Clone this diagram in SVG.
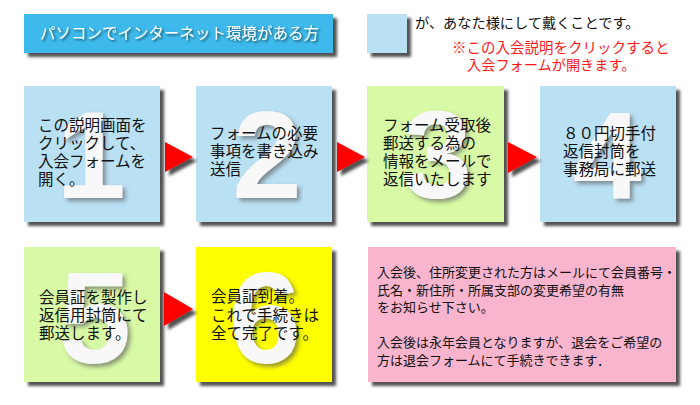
<svg xmlns="http://www.w3.org/2000/svg" width="700" height="405" viewBox="0 0 700 405">
<defs>
<filter id="sh" x="-10%" y="-10%" width="130%" height="130%">
<feDropShadow dx="4" dy="4" stdDeviation="1.5" flood-color="#333" flood-opacity="0.85"/>
</filter>
<filter id="dsh" x="-20%" y="-20%" width="150%" height="150%">
<feDropShadow dx="3" dy="3" stdDeviation="2" flood-color="#555" flood-opacity="0.6"/>
</filter>
<filter id="tsh" x="-5%" y="-20%" width="110%" height="150%">
<feDropShadow dx="1.5" dy="1.5" stdDeviation="1" flood-color="#000" flood-opacity="0.6"/>
</filter>
</defs>
<style>
.t{font-family:"Noto Sans CJK JP","Noto Sans",sans-serif;fill:#111}
.b{font-size:15.5px}
.s{font-size:13px}
.d{font-family:"Liberation Sans",Arial,sans-serif;font-weight:bold;fill:#F8F8F8;text-anchor:middle}
.lb{fill:#BAE0F4}
.gr{fill:#D8F9A6}
.ye{fill:#FFFF00}
.pk{fill:#F9B5CD}
.ar{fill:#FF0000}
</style>
<rect width="700" height="405" fill="#fff"/>
<g id="header">
<rect x="24" y="14" width="309" height="39" fill="#3DB9EB" filter="url(#sh)"/>
<text x="40" y="39" class="t" style="font-size:15.5px;fill:#fff" filter="url(#tsh)">パソコンでインターネット環境がある方</text>
</g>
<g id="legend">
<rect x="367" y="14" width="40" height="39" class="lb" filter="url(#sh)"/>
<text x="415" y="28" class="t" style="font-size:14.2px">が、あなた様にして戴くことです。</text>
<text x="452" y="53" class="t" style="font-size:14.5px;fill:#FF1A1A">※この入会説明をクリックすると</text>
<text x="467" y="70" class="t" style="font-size:14.2px;fill:#FF1A1A">入会フォームが開きます。</text>
</g>
<g id="step1">
<rect x="24" y="86" width="136" height="136" class="lb" filter="url(#sh)"/>
<text x="91" y="198" class="d" style="font-size:125px" filter="url(#dsh)">1</text>
<text class="t b"><tspan x="38" y="131">この説明画面を</tspan><tspan x="38" y="149">クリックして、</tspan><tspan x="38" y="167">入会フォームを</tspan><tspan x="38" y="185">開く。</tspan></text>
</g>
<g id="step2">
<rect x="196" y="86" width="136" height="136" class="lb" filter="url(#sh)"/>
<text x="267" y="198" class="d" style="font-size:125px" filter="url(#dsh)">2</text>
<text class="t b"><tspan x="210" y="139">フォームの必要</tspan><tspan x="210" y="157">事項を書き込み</tspan><tspan x="210" y="175">送信</tspan></text>
</g>
<g id="step3">
<rect x="367" y="86" width="137" height="136" class="gr" filter="url(#sh)"/>
<text x="437" y="198" class="d" style="font-size:125px" filter="url(#dsh)">3</text>
<text class="t b"><tspan x="383" y="131">フォーム受取後</tspan><tspan x="383" y="149">郵送する為の</tspan><tspan x="383" y="167">情報をメールで</tspan><tspan x="383" y="185">返信いたします</tspan></text>
</g>
<g id="step4">
<rect x="540" y="86" width="136" height="136" class="lb" filter="url(#sh)"/>
<text x="607" y="198" class="d" style="font-size:125px" filter="url(#dsh)">4</text>
<text class="t b"><tspan x="563" y="139">８０円切手付</tspan><tspan x="563" y="157">返信封筒を</tspan><tspan x="563" y="175">事務局に郵送</tspan></text>
</g>
<g id="step5">
<rect x="24" y="247" width="136" height="135" class="gr" filter="url(#sh)"/>
<text x="95" y="363" class="d" style="font-size:130px" filter="url(#dsh)">5</text>
<text class="t b"><tspan x="39" y="303">会員証を製作し</tspan><tspan x="39" y="321">返信用封筒にて</tspan><tspan x="39" y="339">郵送します。</tspan></text>
</g>
<g id="step6">
<rect x="196" y="247" width="136" height="135" class="ye" filter="url(#sh)"/>
<text x="265" y="363" class="d" style="font-size:130px" filter="url(#dsh)">6</text>
<text class="t b"><tspan x="211" y="302">会員証到着。</tspan><tspan x="211" y="321">これで手続きは</tspan><tspan x="211" y="339">全て完了です。</tspan></text>
</g>
<g id="note">
<rect x="368" y="247" width="308" height="135" class="pk" filter="url(#sh)"/>
<text class="t s"><tspan x="377" y="277">入会後、住所変更された方はメールにて会員番号・</tspan><tspan x="377" y="295">氏名・新住所・所属支部の変更希望の有無</tspan><tspan x="377" y="312">をお知らせ下さい。</tspan><tspan x="377" y="347">入会後は永年会員となりますが、退会をご希望の</tspan><tspan x="377" y="365">方は退会フォームにて手続きできます．</tspan></text>
</g>
<g id="connectors">
<polygon points="165,142 193,157 165,172" class="ar" filter="url(#sh)"/>
<polygon points="337,142 365,157 337,172" class="ar" filter="url(#sh)"/>
<polygon points="508,142 537,157 508,173" class="ar" filter="url(#sh)"/>
<polygon points="164,292 193,309 164,326" class="ar" filter="url(#sh)"/>
</g>
</svg>
